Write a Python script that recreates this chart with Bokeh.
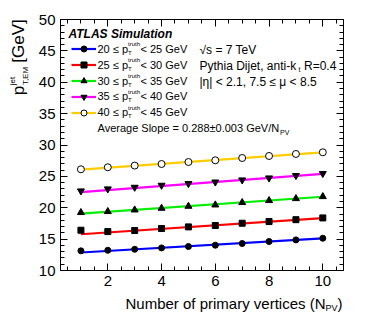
import numpy as np
from bokeh.plotting import figure
from bokeh.models import Range1d, LinearAxis, Label, Legend, LegendItem, FixedTicker
from bokeh.embed import file_html
from bokeh.resources import INLINE

# ---- data ----
npv = [1, 2, 3, 4, 5, 6, 7, 8, 9, 10]
pt_20_25 = [13.13, 13.22, 13.38, 13.60, 13.82, 14.03, 14.30, 14.62, 14.88, 15.14]
pt_25_30 = [16.42, 16.20, 16.37, 16.69, 16.95, 17.17, 17.53, 17.80, 18.10, 18.38]
pt_30_35 = [19.24, 19.40, 19.65, 19.92, 20.24, 20.45, 20.83, 21.15, 21.46, 21.78]
pt_35_40 = [22.68, 23.00, 23.26, 23.58, 23.85, 24.10, 24.43, 24.75, 25.13, 25.45]
pt_40_45 = [26.13, 26.45, 26.72, 26.97, 27.29, 27.56, 27.93, 28.25, 28.57, 28.84]
series = [pt_20_25, pt_25_30, pt_30_35, pt_35_40, pt_40_45]
fit_slope = [0.250, 0.286, 0.298, 0.322, 0.307]
fit_intercept = [12.62, 15.49, 18.77, 22.18, 25.77]
bin_low = ["20", "25", "30", "35", "40"]
bin_high = ["25", "30", "35", "40", "45"]
colors = ["#0000ff", "#ff0000", "#00ee00", "#ff00ff", "#ffcc00"]
markers = ["circle", "square", "triangle", "inverted_triangle", "circle"]
marker_fill = ["black", "black", "black", "black", "white"]
marker_size = [6, 6, 7, 7, 7]
x_ticks = [2, 4, 6, 8, 10]
y_ticks = [10, 15, 20, 25, 30, 35, 40, 45, 50]
x_lo, x_hi = 0.24, 10.77   # visible axis box (data)
y_lo, y_hi = 10, 50

# ---- layout (canvas pixels) ----
FONT = "Liberation Sans"
W, H = 366, 316
BOX_L, BOX_R, BOX_T, BOX_B = 60, 343, 19, 270
kx = (BOX_R - BOX_L) / (x_hi - x_lo)
ky = (BOX_B - BOX_T) / (y_hi - y_lo)
xr = Range1d(x_lo - BOX_L / kx, x_hi + (W - BOX_R) / kx)
yr = Range1d(y_lo - (H - BOX_B) / ky, y_hi + BOX_T / ky)

p = figure(width=W, height=H, x_range=xr, y_range=yr,
           output_backend="svg", toolbar_location=None,
           x_axis_location=None, y_axis_location=None,
           min_border_left=0, min_border_right=0, min_border_top=0, min_border_bottom=0)
p.xgrid.visible = False
p.ygrid.visible = False
p.outline_line_color = None
p.background_fill_color = "white"
p.border_fill_color = "white"

xt = FixedTicker(ticks=x_ticks, minor_ticks=list(np.arange(0.5, 11.0, 0.5)))
yt = FixedTicker(ticks=y_ticks, minor_ticks=list(range(10, 51)))

def make_axis(ticker, loc, bounds, labels):
    ax = LinearAxis(ticker=ticker, fixed_location=loc, bounds=bounds)
    ax.axis_line_color = "black"
    ax.axis_line_width = 1
    ax.major_tick_in = 7
    ax.major_tick_out = 0
    ax.minor_tick_in = 4
    ax.minor_tick_out = 0
    ax.major_tick_line_color = "black"
    ax.minor_tick_line_color = "black"
    if labels:
        ax.major_label_text_font = FONT
        ax.major_label_text_font_size = "15px"
        ax.major_label_text_color = "black"
        ax.major_label_standoff = 5
    else:
        ax.major_label_text_font_size = "0px"
        ax.major_label_text_alpha = 0
        ax.major_label_standoff = 0
    return ax

p.add_layout(make_axis(xt, y_lo, (x_lo, x_hi), True), "below")
p.add_layout(make_axis(yt, x_lo, (y_lo, y_hi), True), "left")
p.add_layout(make_axis(xt, y_hi, (x_lo, x_hi), False), "above")
p.add_layout(make_axis(yt, x_hi, (y_lo, y_hi), False), "right")

items = []
for i, vals in enumerate(series):
    xs = [npv[0], npv[-1]]
    ys = [fit_intercept[i] + fit_slope[i] * x for x in xs]
    lr = p.line(xs, ys, line_color=colors[i], line_width=2.2)
    sr = p.scatter(npv, vals, marker=markers[i], size=marker_size[i],
                   fill_color=marker_fill[i], line_color="black", line_width=1)
    items.append(LegendItem(label=" ", renderers=[lr, sr]))

legend = Legend(items=items, location=(71, H - 119.8), glyph_width=25, glyph_height=15,
                label_height=15, spacing=1, padding=0, margin=0,
                border_line_alpha=0, background_fill_alpha=0,
                label_text_font_size="1px", label_standoff=0, label_width=0)
p.add_layout(legend)

def lab(text, px, py, size, align="left", baseline="middle", style="normal", angle=0.0):
    p.add_layout(Label(x=px, y=H - py, x_units="screen", y_units="screen",
                       text=text, text_font=FONT, text_font_size=f"{size}px",
                       text_align=align, text_baseline=baseline, text_font_style=style,
                       text_color="black", angle=angle))

# ATLAS label
lab("ATLAS Simulation", 68, 33, 12, style="bold italic")

# legend texts
for i in range(5):
    yc = 48.3 + 15.85 * i
    lab(f"{bin_low[i]} ≤ p", 97, yc, 11)
    lab("truth", 127.5, yc - 4.5, 6)
    lab("T", 127.5, yc + 4, 6)
    lab(f"< {bin_high[i]} GeV", 140, yc, 11)

lab("Average Slope =  0.288±0.003 GeV/N", 97, 127.7, 11)
lab("PV", 279.5, 131.5, 7)

# right-hand texts
lab("√s = 7 TeV", 199, 49, 12)
lab("Pythia Dijet, anti-k", 199, 65, 12)
lab("t", 298, 69, 7)
lab("R=0.4", 303.5, 65, 12)
lab("|η| < 2.1, 7.5 ≤ μ < 8.5", 199, 81, 12)

# x axis title
lab("Number of primary vertices (N", 325, 303, 15, align="right", baseline="alphabetic")
lab("PV", 325, 307.5, 9, baseline="alphabetic")
lab(")", 337, 303, 15, baseline="alphabetic")

# y axis title (rotated, centre-anchored)
A = np.pi / 2
lab("p", 18, 90, 17, align="center", angle=A)
lab("jet", 11.5, 80.5, 8, align="center", angle=A)
lab("T,EM", 24.5, 75.5, 8, align="center", angle=A)
lab("[GeV]", 18, 40.5, 17, align="center", angle=A)

open("out.html", "w").write(file_html(p, INLINE))
